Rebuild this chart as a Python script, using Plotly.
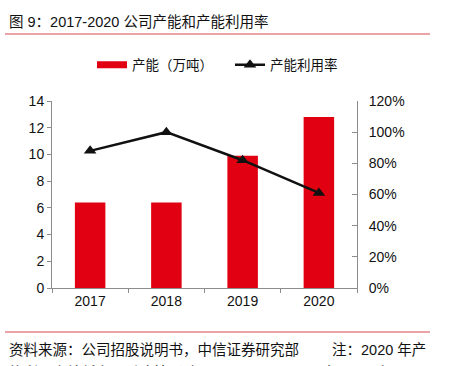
import plotly.graph_objects as go

years = ["2017", "2018", "2019", "2020"]
capacity = [6.4, 6.4, 9.9, 12.8]          # 万吨
utilization = [0.88, 1.00, 0.82, 0.61]    # 产能利用率

W, H = 474, 366
L, R, T, B = 52, 357, 101, 288

def px(x):
    return (x - L) / (R - L)

def py(y):
    return (B - y) / (B - T)

FONT = "Liberation Sans, Noto Sans CJK SC, sans-serif"
RED = "#E00012"
GRID = "#8c8c8c"

fig = go.Figure()
fig.add_trace(go.Bar(
    x=years, y=capacity, name="产能（万吨）", showlegend=False,
    marker=dict(color=RED, line=dict(width=0)), width=0.4,
))
# legend-only entry for the bar series (wide red swatch)
fig.add_trace(go.Scatter(
    x=[None], y=[None], name="产能（万吨）", mode="lines",
    line=dict(color=RED, width=7),
))
fig.add_trace(go.Scatter(
    x=years, y=utilization, name="产能利用率", yaxis="y2",
    mode="lines+markers",
    line=dict(color="#111111", width=2.5),
    marker=dict(symbol="triangle-up", size=11, color="#111111"),
))

fig.update_layout(
    width=W, height=H,
    margin=dict(l=L, r=W - R, t=T, b=H - B),
    paper_bgcolor="white", plot_bgcolor="white",
    font=dict(family=FONT, size=14, color="#111111"),
    showlegend=True,
    legend=dict(orientation="h", x=px(92), y=py(65), xanchor="left", yanchor="middle",
                font=dict(size=13.5), itemwidth=30, entrywidth=93, entrywidthmode="pixels",
                bgcolor="rgba(0,0,0,0)"),
    bargap=0.6,
    xaxis=dict(type="category", showline=True, linecolor=GRID, linewidth=1,
               ticks="outside", ticklen=4, tickcolor=GRID, tickson="boundaries",
               showgrid=False, tickfont=dict(size=14)),
    yaxis=dict(range=[0, 14], dtick=2, showline=True, linecolor=GRID, linewidth=1,
               ticks="outside", ticklen=4, tickcolor=GRID, showgrid=False,
               zeroline=False, tickfont=dict(size=14)),
    yaxis2=dict(range=[0, 1.2], dtick=0.2, tickformat=".0%", overlaying="y", side="right",
                showline=True, linecolor=GRID, linewidth=1, ticks="inside", ticklen=5,
                tickcolor=GRID, showgrid=False, zeroline=False, tickfont=dict(size=14),
                ticklabelstandoff=8),
)

# Title and rules
fig.add_annotation(text="图 9：2017-2020 公司产能和产能利用率", xref="paper", yref="paper",
                   x=px(7), y=py(22), xanchor="left", yanchor="middle", showarrow=False,
                   font=dict(size=14.5, color="#111111"))
fig.add_shape(type="line", xref="paper", yref="paper", x0=px(5), x1=px(430),
              y0=py(34), y1=py(34), line=dict(color="#D9484F", width=1.2))
fig.add_shape(type="line", xref="paper", yref="paper", x0=px(5), x1=px(430),
              y0=py(332), y1=py(332), line=dict(color="#D9484F", width=1.2))
fig.add_annotation(text="资料来源：公司招股说明书，中信证券研究部", xref="paper", yref="paper",
                   x=px(7), y=py(350), xanchor="left", yanchor="middle", showarrow=False,
                   font=dict(size=14.5, color="#111111"))
fig.add_annotation(text="注：2020 年产", xref="paper", yref="paper",
                   x=px(428), y=py(350), xanchor="right", yanchor="middle", showarrow=False,
                   font=dict(size=14.5, color="#111111"))
fig.add_annotation(text="能利用率较低主要系疫情影响开工不足，且 2020 年 1 月到", xref="paper", yref="paper",
                   x=px(7), y=py(372), xanchor="left", yanchor="middle", showarrow=False,
                   font=dict(size=14.5, color="#111111"))

fig.write_html("out.html", config={"displayModeBar": False},
               post_script="document.body.style.margin='0px';")
